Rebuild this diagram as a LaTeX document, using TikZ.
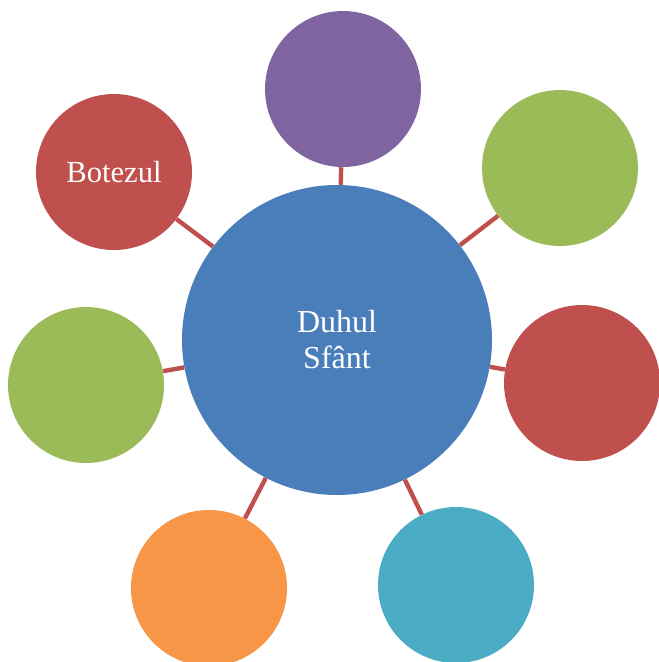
\documentclass[tikz,border=0pt]{standalone}
\usepackage{fontspec}
\setmainfont{Liberation Serif}
\usetikzlibrary{calc}
\definecolor{bleu}{HTML}{4A7EBB}
\definecolor{rouge}{HTML}{C0504D}
\definecolor{vert}{HTML}{9BBB59}
\definecolor{violet}{HTML}{8064A2}
\definecolor{turquoise}{HTML}{4BACC6}
\definecolor{orange}{HTML}{F79646}
\tikzstyle{centre} = [circle, fill=bleu, inner sep=0pt, minimum size=232.5pt, text=white, align=center, font=\fontsize{24}{27}\selectfont]
\tikzstyle{bulle} = [circle, inner sep=0pt, minimum size=117pt, text=white, font=\fontsize{23}{27}\selectfont]
\tikzstyle{lien} = [draw=rouge, line width=3.3pt]

\begin{document}
\begin{tikzpicture}[x=0.75pt, y=-0.75pt]

        \useasboundingbox (0,0) rectangle (659,662);

        \node (C) [centre] at (337,340) {Duhul\\Sfânt};

        \node (B1) [bulle, fill=violet] at (343,89) {};
        \node (B2) [bulle, fill=vert] at (560,168) {};
        \node (B3) [bulle, fill=rouge] at (582,383) {};
        \node (B4) [bulle, fill=turquoise] at (456,585) {};
        \node (B5) [bulle, fill=orange] at (209,588) {};
        \node (B6) [bulle, fill=vert] at (86,385) {};
        \node (B7) [bulle, fill=rouge] at (114,172) {Botezul};

        \foreach \b in {B1,B2,B3,B4,B5,B6,B7}
            \draw[lien] (C) -- (\b);

    \end{tikzpicture}
\end{document}
